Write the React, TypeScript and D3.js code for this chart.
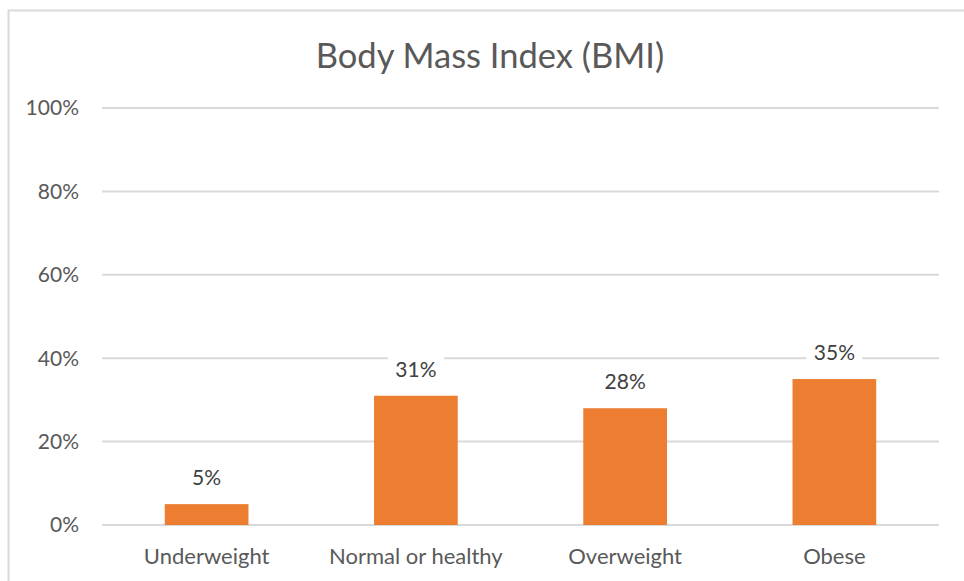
import React from "react";
import * as d3 from "d3";

const categories = ["Underweight", "Normal or healthy", "Overweight", "Obese"];
const values = [5, 31, 28, 35];
const yTicks = [0, 20, 40, 60, 80, 100];

const W = 964;
const H = 581;
const margin = { top: 108, right: 25, bottom: 56, left: 102 };

export default function App() {
  const x = d3
    .scaleBand<string>()
    .domain(categories)
    .range([margin.left, W - margin.right])
    .paddingInner(0.6)
    .paddingOuter(0.3);

  const y = d3
    .scaleLinear()
    .domain([0, 100])
    .range([H - margin.bottom, margin.top]);

  const font = "Lato, 'Open Sans', sans-serif";

  return (
    <svg
      width={W}
      height={H}
      style={{ position: "absolute", left: 0, top: 0, background: "#fff" }}
      fontFamily={font}
    >
      {/* chart border */}
      <rect x={8.5} y={10.5} width={964} height={600} fill="none" stroke="#d9d9d9" strokeWidth={2} />

      <text x={490} y={68} textAnchor="middle" fontSize={34.5} fill="#595959">
        Body Mass Index (BMI)
      </text>

      {/* gridlines + y labels */}
      {yTicks.map((t) => (
        <g key={t}>
          <line
            x1={margin.left}
            x2={W - margin.right}
            y1={y(t)}
            y2={y(t)}
            stroke="#d9d9d9"
            strokeWidth={2}
          />
          <text x={79} y={y(t)} dy="0.35em" textAnchor="end" fontSize={21} fill="#595959">
            {t}%
          </text>
        </g>
      ))}

      {/* bars */}
      {categories.map((c, i) => {
        const cx = (x(c) ?? 0) + x.bandwidth() / 2;
        const ly = y(values[i]) - 19;
        return (
          <g key={c}>
            <rect
              x={x(c)}
              y={y(values[i])}
              width={x.bandwidth()}
              height={y(0) - y(values[i])}
              fill="#ed7d31"
            />
            <rect x={cx - 28} y={ly - 22} width={56} height={29} fill="#fff" />
            <text x={cx} y={ly} textAnchor="middle" fontSize={21} fill="#404040">
              {values[i]}%
            </text>
            <text x={cx} y={y(0) + 39} textAnchor="middle" fontSize={22} fill="#595959">
              {c}
            </text>
          </g>
        );
      })}
    </svg>
  );
}
